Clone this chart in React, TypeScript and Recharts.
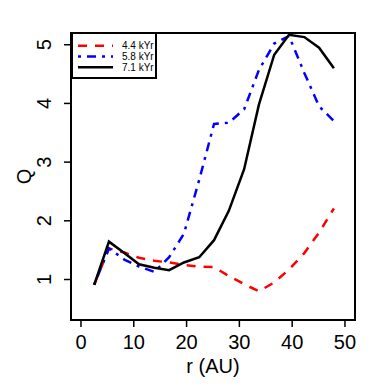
import React from 'react';
import { LineChart, Line, XAxis, YAxis, ReferenceArea, Legend } from 'recharts';

// radius grid (AU) and Q profiles at three times
const R_AU = [2.5, 5.3, 8.2, 11.0, 13.9, 16.7, 19.5, 22.4, 25.2, 28.0, 30.9, 33.7, 36.6, 39.4, 42.3, 45.1, 47.9];
const Q_44 = [0.91, 1.53, 1.46, 1.37, 1.32, 1.29, 1.25, 1.22, 1.21, 1.06, 0.92, 0.8, 0.95, 1.17, 1.45, 1.8, 2.21];
const Q_58 = [0.91, 1.53, 1.34, 1.22, 1.13, 1.38, 1.78, 2.7, 3.65, 3.67, 3.9, 4.57, 5.02, 5.15, 4.52, 3.95, 3.7];
const Q_71 = [0.91, 1.645, 1.45, 1.26, 1.2, 1.16, 1.29, 1.38, 1.67, 2.17, 2.88, 3.98, 4.83, 5.17, 5.13, 4.95, 4.6];

const X_TICKS = [0, 10, 20, 30, 40, 50];
const Y_TICKS = [1, 2, 3, 4, 5];
const X_DOMAIN: [number, number] = [-1.89, 51.9];
const Y_DOMAIN: [number, number] = [0.31, 5.2];

const SERIES = [
    { key: 'q44', name: '4.4 kYr', color: '#ff0000', dash: '9 8' },
    { key: 'q58', name: '5.8 kYr', color: '#0000ff', dash: '3 6 9 6' },
    { key: 'q71', name: '7.1 kYr', color: '#000000', dash: undefined as string | undefined },
];

const data = R_AU.map((r, i) => ({ r, q44: Q_44[i], q58: Q_58[i], q71: Q_71[i] }));

const FONT = '"Liberation Sans", Arial, sans-serif';

const XTick = ({ x, y, payload }: any) => (
    <text x={x} y={y + 20} textAnchor="middle" fontFamily={FONT} fontSize={20} fill="#000">
        {payload.value}
    </text>
);

const YTick = ({ x, y, payload }: any) => (
    <text
        x={x - 11}
        y={y}
        transform={`rotate(-90, ${x - 11}, ${y})`}
        textAnchor="middle"
        fontFamily={FONT}
        fontSize={20}
        fill="#000"
    >
        {payload.value}
    </text>
);

// legend box in the top-left corner of the plot
const LegendBox = () => (
    <svg width={86} height={47} style={{ display: 'block' }}>
        <rect x={1} y={1} width={84} height={45} fill="#fff" stroke="#000" strokeWidth={2} />
        {SERIES.map((s, i) => {
            const y = 13.7 + i * 10.8;
            return (
                <g key={s.key}>
                    <line x1={7} x2={42} y1={y} y2={y} stroke={s.color} strokeWidth={2.5} strokeDasharray={s.dash} />
                    <text x={51} y={y + 3.6} fontFamily={FONT} fontSize={10} fill="#000">
                        {s.name}
                    </text>
                </g>
            );
        })}
    </svg>
);

export default function App() {
    return (
        <div style={{ position: 'absolute', left: 0, top: 0, background: '#fff' }}>
            <LineChart width={390} height={389} data={data} margin={{ top: 33, right: 35, left: 0, bottom: 0 }}>
                <XAxis
                    type="number"
                    dataKey="r"
                    domain={X_DOMAIN}
                    ticks={X_TICKS}
                    allowDataOverflow
                    axisLine={false}
                    tickSize={7}
                    tickLine={{ stroke: '#000', strokeWidth: 1.5 }}
                    tick={<XTick />}
                    height={69}
                    label={{
                        content: ({ viewBox }: any) => (
                            <text
                                x={viewBox.x + viewBox.width / 2}
                                y={viewBox.y + 53}
                                textAnchor="middle"
                                fontFamily={FONT}
                                fontSize={20}
                                fill="#000"
                            >
                                r (AU)
                            </text>
                        ),
                    }}
                />
                <YAxis
                    type="number"
                    domain={Y_DOMAIN}
                    ticks={Y_TICKS}
                    allowDataOverflow
                    axisLine={false}
                    tickSize={7}
                    tickLine={{ stroke: '#000', strokeWidth: 1.5 }}
                    tick={<YTick />}
                    width={71}
                    label={{
                        content: ({ viewBox }: any) => {
                            const cx = 31;
                            const cy = viewBox.y + viewBox.height / 2;
                            return (
                                <text
                                    x={cx}
                                    y={cy}
                                    transform={`rotate(-90, ${cx}, ${cy})`}
                                    textAnchor="middle"
                                    fontFamily={FONT}
                                    fontSize={20}
                                    fill="#000"
                                >
                                    Q
                                </text>
                            );
                        },
                    }}
                />
                {SERIES.map((s) => (
                    <Line
                        key={s.key}
                        type="linear"
                        dataKey={s.key}
                        name={s.name}
                        stroke={s.color}
                        strokeWidth={2.5}
                        strokeDasharray={s.dash}
                        dot={false}
                        activeDot={false}
                        isAnimationActive={false}
                    />
                ))}
                <ReferenceArea
                    x1={X_DOMAIN[0]}
                    x2={X_DOMAIN[1]}
                    y1={Y_DOMAIN[0]}
                    y2={Y_DOMAIN[1]}
                    fill="none"
                    stroke="#000"
                    strokeWidth={2}
                    ifOverflow="visible"
                />
                <Legend
                    layout="vertical"
                    align="center"
                    verticalAlign="middle"
                    wrapperStyle={{ left: 71, top: 32, width: 86, height: 47 }}
                    content={<LegendBox />}
                />
            </LineChart>
        </div>
    );
}
